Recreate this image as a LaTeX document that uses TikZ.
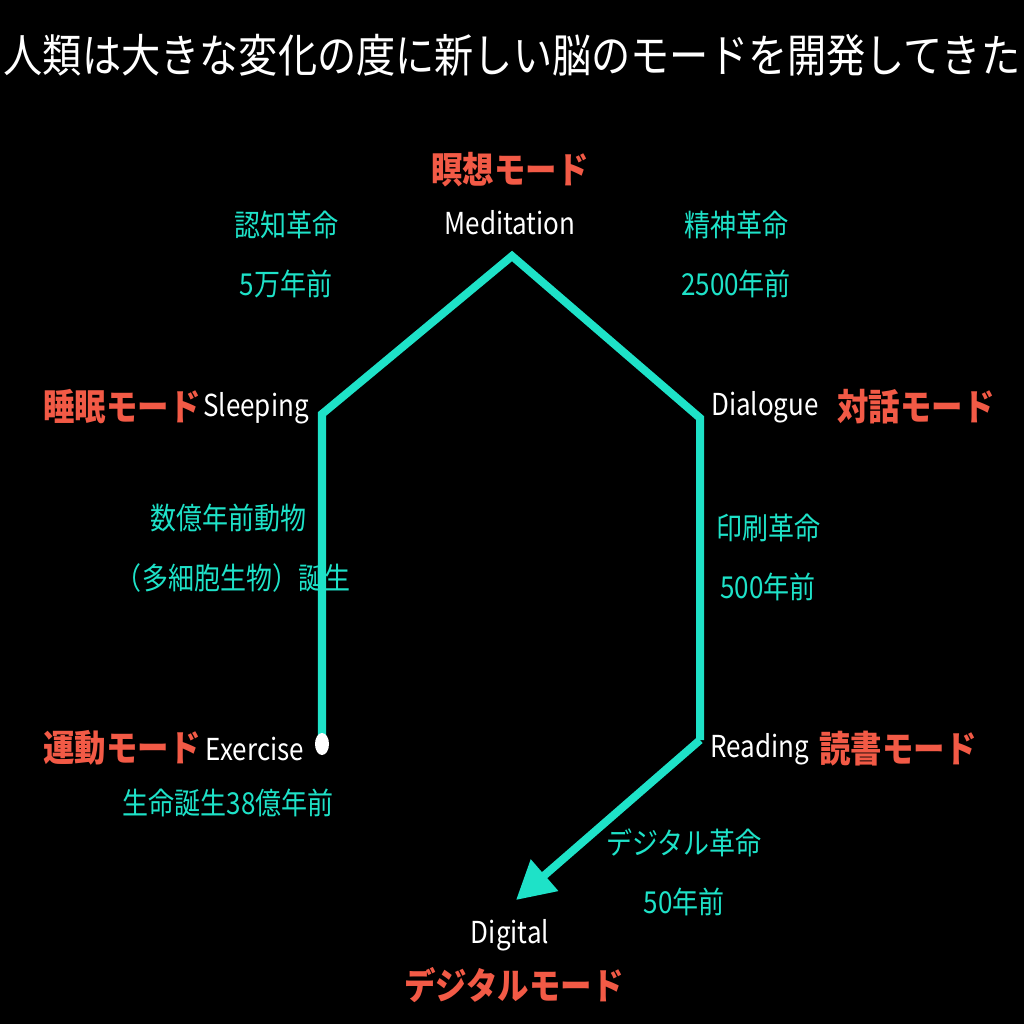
\documentclass[tikz,border=0pt]{standalone}
\usepackage{fontspec}
\setmainfont{Noto Sans CJK JP}[FakeStretch=0.86]
\usetikzlibrary{arrows.meta}
\definecolor{mint}{RGB}{30,226,200}
\definecolor{coral}{RGB}{242,90,70}
\tikzset{
    modename/.style={text=coral, font=\fontsize{26}{28}\selectfont\bfseries, inner sep=0pt},
    engname/.style={text=white, font=\fontsize{21.5}{23}\selectfont, inner sep=0pt},
    eraname/.style={text=mint, font=\fontsize{21.5}{23}\selectfont, inner sep=0pt},
    trail/.style={mint, line width=5.7pt, line join=miter}
}
\begin{document}
\begin{tikzpicture}[x=0.025cm, y=-0.025cm]
    % Background
    \fill[black] (0,0) rectangle (1024,1024);
    \useasboundingbox (0,0) rectangle (1024,1024);
    % Title
    \node[text=white, font=\fontsize{32.4}{34}\selectfont, inner sep=0pt] (title) at (512,55) {人類は大きな変化の度に新しい脳のモードを開発してきた};

    % Corners of the path
    \coordinate (exercise) at (322,744);
    \coordinate (sleeping) at (322,414);
    \coordinate (meditation) at (512,256);
    \coordinate (dialogue) at (700,418);
    \coordinate (reading) at (700,740);
    \coordinate (digital) at (516,900);

    % The path through the modes
    \draw[trail] (exercise) -- (sleeping) -- (meditation) -- (dialogue) -- (reading);
    \draw[trail, -{Triangle[length=38pt/1.41, width=40pt/1.41]}] (reading) -- (digital);
    \fill[white] (exercise) ellipse (7 and 11);

    % Mode labels
    \node[modename] (medJ) at (510,170) {瞑想モード};
    \node[engname] (medE) at (510,223) {Meditation};
    \node[modename] (sleJ) at (122,407) {睡眠モード};
    \node[engname] (sleE) at (256,408) {Sleeping};
    \node[engname] (diaE) at (765,407) {Dialogue};
    \node[modename] (diaJ) at (916,407) {対話モード};
    \node[modename] (exeJ) at (122,748) {運動モード};
    \node[engname] (exeE) at (255,749) {Exercise};
    \node[engname] (reaE) at (760,749) {Reading};
    \node[modename] (reaJ) at (898,749) {読書モード};
    \node[engname] (digE) at (510,935) {Digital};
    \node[modename] (digJ) at (514,985) {デジタルモード};

    % Revolutions
    \node[eraname] (cog) at (286,225) {認知革命};
    \node[eraname] (cogT) at (286,284) {5万年前};
    \node[eraname] (spi) at (736,225) {精神革命};
    \node[eraname] (spiT) at (736,284) {2500年前};
    \node[eraname] (ani) at (228,518) {数億年前動物};
    \node[eraname] (aniT) at (233,578) {（多細胞生物）誕生};
    \node[eraname] (pri) at (768,528) {印刷革命};
    \node[eraname] (priT) at (768,587) {500年前};
    \node[eraname] (lif) at (228,803) {生命誕生38億年前};
    \node[eraname] (dig) at (684,843) {デジタル革命};
    \node[eraname] (digT) at (684,902) {50年前};
\end{tikzpicture}
\end{document}
